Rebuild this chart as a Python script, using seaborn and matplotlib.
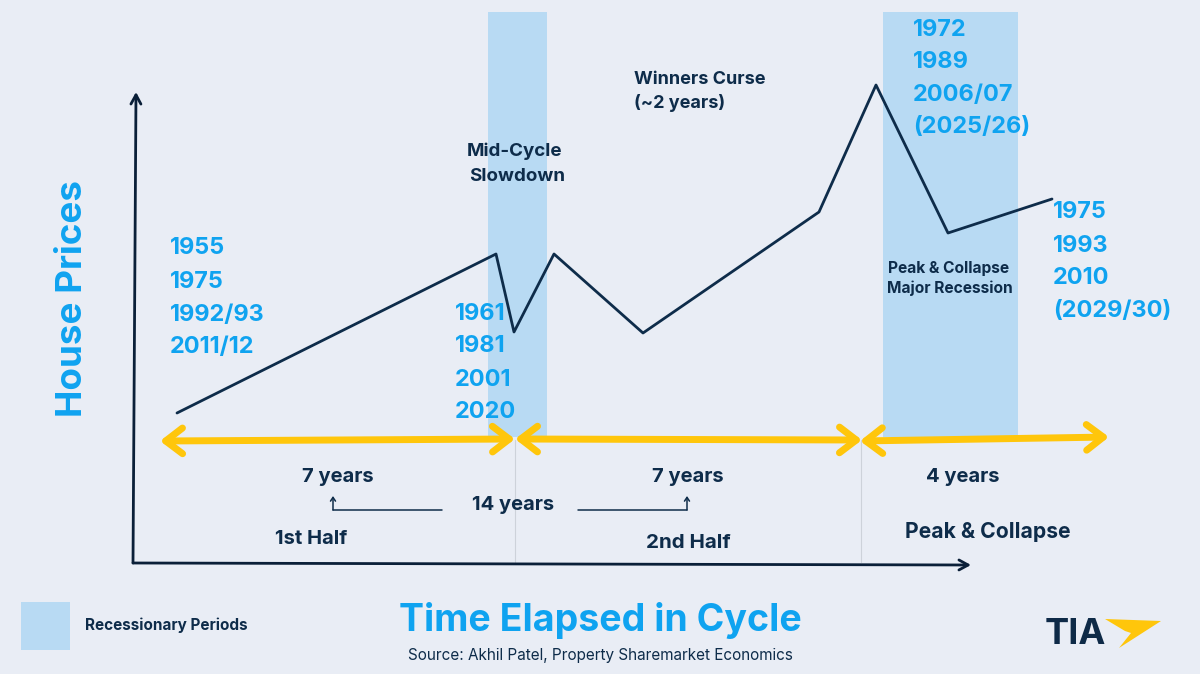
import matplotlib
matplotlib.use("Agg")
import matplotlib.pyplot as plt
from matplotlib.patches import Rectangle, Polygon
from matplotlib.transforms import Affine2D
import seaborn as sns
import pandas as pd

# Data: years elapsed and a relative house price level
cycle_years = [0.34, 6.72, 7.08, 7.88, 9.66, 13.18, 14.32, 15.76, 17.84]
house_price = [150, 309, 231, 309, 230, 351, 478, 330, 364]

start_years = ["1955", "1975", "1992/93", "2011/12"]
midcycle_years = ["1961", "1981", "2001", "2020"]
peak_years = ["1972", "1989", "2006/07", "(2025/26)"]
trough_years = ["1975", "1993", "2010", "(2029/30)"]

BG = "#E9EDF5"
BAND = "#B8DAF3"
BLUE = "#0FA3F0"
NAVY = "#0E2C4A"
DARK = "#0A1F38"
YELLOW = "#FFC60B"
FONT = "Inter"

sns.set_theme(style="white")
plt.rcParams["font.family"] = [FONT, "DejaVu Sans"]

fig = plt.figure(figsize=(12, 6.74), dpi=100, facecolor=BG)
ax = fig.add_axes([0, 0, 1, 1], facecolor=BG)
ax.set_xlim(-3.2, 20.8)
ax.set_ylim(-111, 563)
ax.axis("off")

# pixel placement helper: x right, y down from the top left corner
px = Affine2D().scale(1 / 1200, -1 / 674).translate(0, 1) + fig.transFigure


def T(x, y, s, size=14.5, color=NAVY, ha="center", weight="bold", **kw):
    ax.text(x, y + 3.5, s, transform=px, fontsize=size, color=color, ha=ha, va="center",
            fontweight=weight, **kw)


def stack(x, y0, items, size=16.9, step=33):
    for i, s in enumerate(items):
        T(x, y0 + i * step, s, size=size, color=BLUE, ha="left")


def arrow(p0, p1, style="-|>", color=DARK, lw=2, ms=12):
    ax.annotate("", xy=p1, xytext=p0, xycoords=px, textcoords=px,
                arrowprops=dict(arrowstyle=style, color=color, lw=lw, mutation_scale=ms,
                                shrinkA=0, shrinkB=0, capstyle="round", joinstyle="round"))


# recession bands and legend swatch
for x, y, w, h in [(488, 12, 59, 425), (883, 12, 135, 425), (21, 602, 49, 48)]:
    ax.add_patch(Rectangle((x, y), w, h, transform=px, facecolor=BAND, edgecolor="none", zorder=0))

# dividers
ax.plot([515, 515], [440, 562], transform=px, color="#CDD2DA", lw=0.8, zorder=1)
ax.plot([861, 861], [440, 562], transform=px, color="#CDD2DA", lw=0.8, zorder=1)

# cycle line
df = pd.DataFrame({"years": cycle_years, "price": house_price})
sns.lineplot(data=df, x="years", y="price", ax=ax, color=NAVY, lw=2.0, sort=False,
             errorbar=None, zorder=3)
ax.set_xlabel("")
ax.set_ylabel("")

# chart axes
arrow((133, 563), (136, 92), style="->,head_length=0.55,head_width=0.3")
arrow((133, 563), (971, 565), style="->,head_length=0.55,head_width=0.3")

# yellow spans
head = "<->,head_length=0.55,head_width=0.42"
arrow((160, 441), (515, 439), style=head, color=YELLOW, lw=5, ms=22)
arrow((515, 439), (862, 440), style=head, color=YELLOW, lw=5, ms=22)
arrow((860, 441), (1109, 437), style=head, color=YELLOW, lw=5, ms=22)

# small connector arrows
ax.plot([333, 442], [510, 510], transform=px, color=NAVY, lw=1.1)
arrow((333, 510), (333, 496), style="->,head_length=0.3,head_width=0.2", color=NAVY, lw=1.1, ms=9)
ax.plot([578, 687], [510, 510], transform=px, color=NAVY, lw=1.1)
arrow((687, 510), (687, 496), style="->,head_length=0.3,head_width=0.2", color=NAVY, lw=1.1, ms=9)

# blue year stacks
stack(170, 245, start_years)
stack(455, 310, midcycle_years)
stack(913, 26, peak_years, step=32.5)
stack(1053, 209, trough_years)

# navy labels
T(634, 76, "Winners Curse", size=13, ha="left")
T(634, 100, "(~2 years)", size=13, ha="left")
T(515, 148, "Mid-Cycle", size=13.5)
T(517, 173, "Slowdown", size=13.5)
T(949, 265, "Peak & Collapse", size=11.2)
T(950, 285, "Major Recession", size=11.2)
T(338, 473, "7 years", size=14.5)
T(688, 473, "7 years", size=14.5)
T(963, 473, "4 years", size=14.5)
T(513, 501, "14 years", size=14.5)
T(311, 535, "1st Half", size=14.5)
T(688, 540, "2nd Half", size=14.8)
T(988, 529, "Peak & Collapse", size=15.2)
T(85, 622, "Recessionary Periods", size=11, ha="left")

# axis titles
T(72, 295, "House Prices", size=26.5, color=BLUE, rotation=90)
T(600, 617, "Time Elapsed in Cycle", size=27, color=BLUE)
T(600, 652, "Source: Akhil Patel, Property Sharemarket Economics", size=11, weight="normal")

# logo
T(1045, 631, "TIA", size=26, ha="left", color="#0E2A47")
ax.add_patch(Polygon([(1105, 619), (1161, 621), (1119, 648), (1131, 633), (1125, 631)],
                     closed=True, transform=px, facecolor=YELLOW, edgecolor="none"))

fig.savefig("out.png", dpi=100, facecolor=BG)
